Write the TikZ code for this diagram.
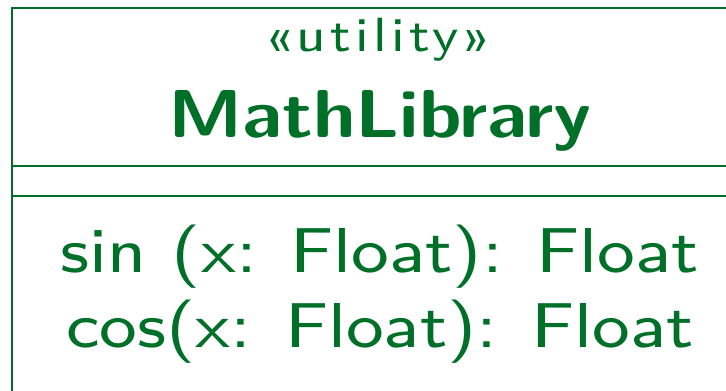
\documentclass[tikz,border=0pt]{standalone}
\usepackage{fontspec}
\usepackage{tikz}
\usetikzlibrary{positioning}
\definecolor{umlgreen}{RGB}{0,112,40}
\newfontfamily\umlsf[FakeStretch=1.12]{lmsans8-regular.otf}
\newfontfamily\umlsfst[FakeStretch=1.12,LetterSpace=9]{lmsans8-regular.otf}
\newfontfamily\umlsfbf[FakeStretch=1.12]{lmsans10-bold.otf}

\begin{document}
\begin{tikzpicture}[x=0.5pt,y=-0.5pt,
  classtext/.style={text=umlgreen,anchor=base,inner sep=0pt},
  stereo/.style={classtext,font=\umlsfst\fontsize{24}{28}\selectfont},
  cname/.style={classtext,font=\umlsfbf\fontsize{33.9}{40}\selectfont},
  oper/.style={classtext,font=\umlsf\fontsize{31.7}{38}\selectfont}]
\path[use as bounding box,clip] (0,0) rectangle (726,390);
% class box, cut off at the right and the bottom
\coordinate (nw) at (12,8);
\coordinate (se) at (748,420);
\draw[umlgreen,line width=1pt] (nw) rectangle (se);
\draw[umlgreen,line width=0.75pt] (12,166) coordinate (s1) -- (748,166) coordinate (s1e);
\draw[umlgreen,line width=0.75pt] (12,196) coordinate (s2) -- (748,196) coordinate (s2e);
\node[stereo] (st) at (378,52) {«utility»};
\node[cname] (nm) at (380,137) {MathLibrary};
\node[oper] (op1) at (380,272) {sin (x: Float): Float};
\node[oper] (op2) at (380,347) {cos(x: Float): Float};
\end{tikzpicture}
\end{document}
